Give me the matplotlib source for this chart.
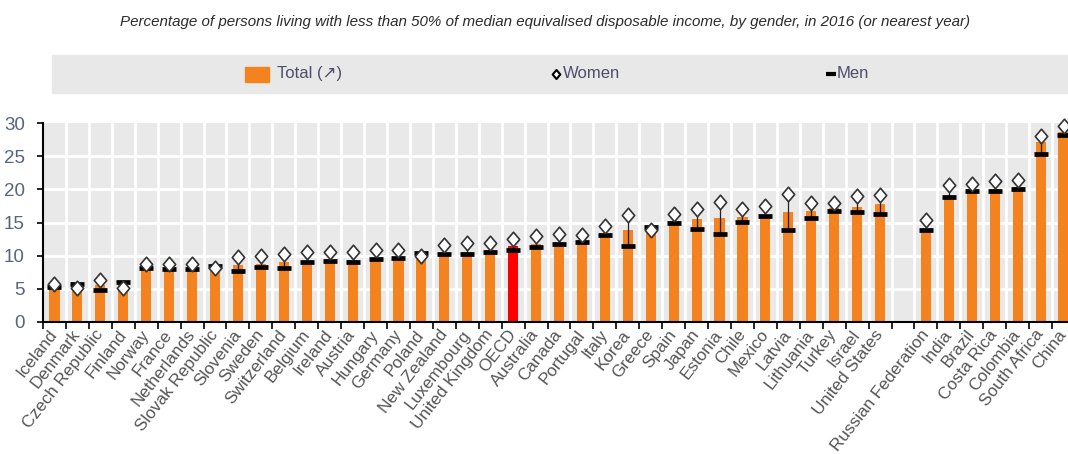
import numpy as np
import matplotlib
matplotlib.use("Agg")
import matplotlib.pyplot as plt
from matplotlib.path import Path
from matplotlib.patches import Rectangle
from matplotlib.lines import Line2D
from matplotlib import font_manager

# OECD countries (sorted by total), then partner economies
countries = ["Iceland", "Denmark", "Czech Republic", "Finland", "Norway", "France",
             "Netherlands", "Slovak Republic", "Slovenia", "Sweden", "Switzerland",
             "Belgium", "Ireland", "Austria", "Hungary", "Germany", "Poland",
             "New Zealand", "Luxembourg", "United Kingdom", "OECD", "Australia",
             "Canada", "Portugal", "Italy", "Korea", "Greece", "Spain", "Japan",
             "Estonia", "Chile", "Mexico", "Latvia", "Lithuania", "Turkey", "Israel",
             "United States"]
total = [5.4, 5.5, 5.6, 5.7, 8.1, 8.3, 8.3, 8.4, 8.6, 8.8, 9.0, 9.1, 9.4, 9.4, 9.7,
         9.8, 10.1, 10.4, 10.6, 10.8, 11.5, 11.8, 12.1, 12.4, 13.3, 13.8, 14.1, 15.3,
         15.6, 15.7, 15.8, 16.1, 16.6, 16.7, 17.2, 17.4, 17.8]
women = [5.7, 5.1, 6.4, 5.2, 8.7, 8.8, 8.7, 8.1, 9.8, 10.0, 10.3, 10.6, 10.6, 10.6,
         10.9, 10.8, 9.9, 11.6, 11.9, 11.9, 12.5, 12.9, 13.2, 13.1, 14.4, 16.1, 13.8,
         16.3, 17.1, 18.1, 17.1, 17.5, 19.3, 17.9, 17.9, 19.0, 19.2]
men = [5.3, 5.8, 4.8, 6.0, 8.1, 8.0, 8.0, 8.5, 7.7, 8.3, 8.1, 9.0, 9.2, 9.0, 9.5,
       9.6, 10.4, 10.3, 10.3, 10.6, 10.9, 11.3, 11.8, 12.1, 13.1, 11.5, 14.3, 15.0,
       14.0, 13.2, 15.1, 16.0, 13.9, 15.7, 16.8, 16.6, 16.3]

partners = ["Russian Federation", "India", "Brazil", "Costa Rica", "Colombia",
            "South Africa", "China"]
partner_total = [14.0, 19.0, 19.8, 20.0, 20.4, 27.2, 28.6]
partner_women = [15.4, 20.7, 20.8, 21.2, 21.4, 28.1, 29.6]
partner_men = [13.8, 18.8, 19.7, 19.8, 20.1, 25.3, 28.2]

ORANGE = "#f4821f"
GREY_BG = "#e9e9e9"
LEG_TXT = "#4e4e6a"

names = countries + partners
tot = np.array(total + partner_total)
wom = np.array(women + partner_women)
mn = np.array(men + partner_men)
# one empty slot between OECD countries and partners
x = np.r_[np.arange(len(countries)), np.arange(len(partners)) + len(countries) + 1]
colors = ["#ff0000" if n == "OECD" else ORANGE for n in names]

installed = {f.name for f in font_manager.fontManager.ttflist}
narrow = [f for f in ["DejaVu Sans Condensed", "Liberation Sans Narrow", "Liberation Sans"]
          if f in installed] + ["DejaVu Sans"]
arial = ["Liberation Sans", "DejaVu Sans"]

fig = plt.figure(figsize=(10.68, 4.54), dpi=100)
W, H = 1068, 454
ax = fig.add_axes([43 / W, 1 - 322 / H, (1075 - 43) / W, (322 - 123) / H])
ax.set_facecolor(GREY_BG)

ax.bar(x, tot, width=0.44, color=colors, zorder=2)
ax.vlines(x, np.minimum(wom, mn), np.maximum(wom, mn), color="#222222", lw=0.9, zorder=3)
ax.plot(x, mn, ls="none", marker="_", ms=10, mew=3.4, color="black", zorder=4)
diamond = Path([(0, 1), (0.85, 0), (0, -1), (-0.85, 0), (0, 1)],
               [Path.MOVETO, Path.LINETO, Path.LINETO, Path.LINETO, Path.CLOSEPOLY])
ax.plot(x, wom, ls="none", marker=diamond, ms=10.5, mfc="white", mec="#333333",
        mew=1.2, zorder=5, clip_on=False)

ax.set_xlim(-0.5, len(countries) + len(partners) + 0.5)
ax.set_ylim(0, 30)
ax.set_yticks(np.arange(0, 31, 5))
ax.set_xticks(x)
ax.set_xticklabels(names, rotation=52, ha="right", va="center", rotation_mode="anchor",
                   fontsize=12.3, color="#555555", family=arial)
ax.tick_params(axis="x", length=0, pad=7)
# small tick marks at slot boundaries
bounds = np.arange(-0.5, len(countries) + len(partners) + 1, 1.0)
ax.set_xticks(bounds, minor=True)
ax.tick_params(axis="x", which="minor", length=5, width=1.2, color="black")
ax.tick_params(axis="y", length=4, width=1.2, pad=9, labelsize=13.5, labelcolor="#56657f")
for lab in ax.get_yticklabels():
    lab.set_family(narrow)

for v in bounds[1:-1]:
    ax.axvline(v, color="white", lw=2, zorder=1)
for v in range(5, 30, 5):
    ax.axhline(v, color="white", lw=2, zorder=1)
for s in ["top", "right"]:
    ax.spines[s].set_visible(False)
ax.spines["left"].set_linewidth(1.5)
ax.spines["bottom"].set_linewidth(1.5)

# title and legend band
title = fig.text(545 / W, 1 - 22 / H, "Percentage of persons living with less than 50% of "
                 "median equivalised disposable income, by gender, in 2016 (or nearest year)",
                 ha="center", va="center", fontsize=12, style="italic", color="#2b2b2b",
                 family=narrow)
fig.patches.append(Rectangle((52 / W, 1 - 93 / H), 1 - 52 / W, 38 / H,
                             transform=fig.transFigure, color="#e8e8e8", zorder=0))
ly = 1 - 74 / H
fig.patches.append(Rectangle((245 / W, 1 - 82 / H), 24 / W, 15 / H,
                             transform=fig.transFigure, color=ORANGE))
fig.text(277 / W, ly, "Total (\u2197)", va="center", fontsize=12, color=LEG_TXT,
         family=narrow)
fig.lines.append(Line2D([556 / W], [ly], transform=fig.transFigure, marker=diamond,
                        ms=6.5, mfc="white", mec="black", mew=1.5))
fig.text(563 / W, ly, "Women", va="center", fontsize=12, color=LEG_TXT, family=narrow)
fig.lines.append(Line2D([831 / W], [ly], transform=fig.transFigure, marker="_",
                        ms=7, mew=3, color="black"))
fig.text(837 / W, ly, "Men", va="center", fontsize=12, color=LEG_TXT, family=narrow)

# shrink the title to the width it takes in the reference
renderer = fig.canvas.get_renderer()
w = title.get_window_extent(renderer).width
if w > 850:
    title.set_fontsize(title.get_fontsize() * 850 / w)

fig.savefig("out.png", dpi=100)
